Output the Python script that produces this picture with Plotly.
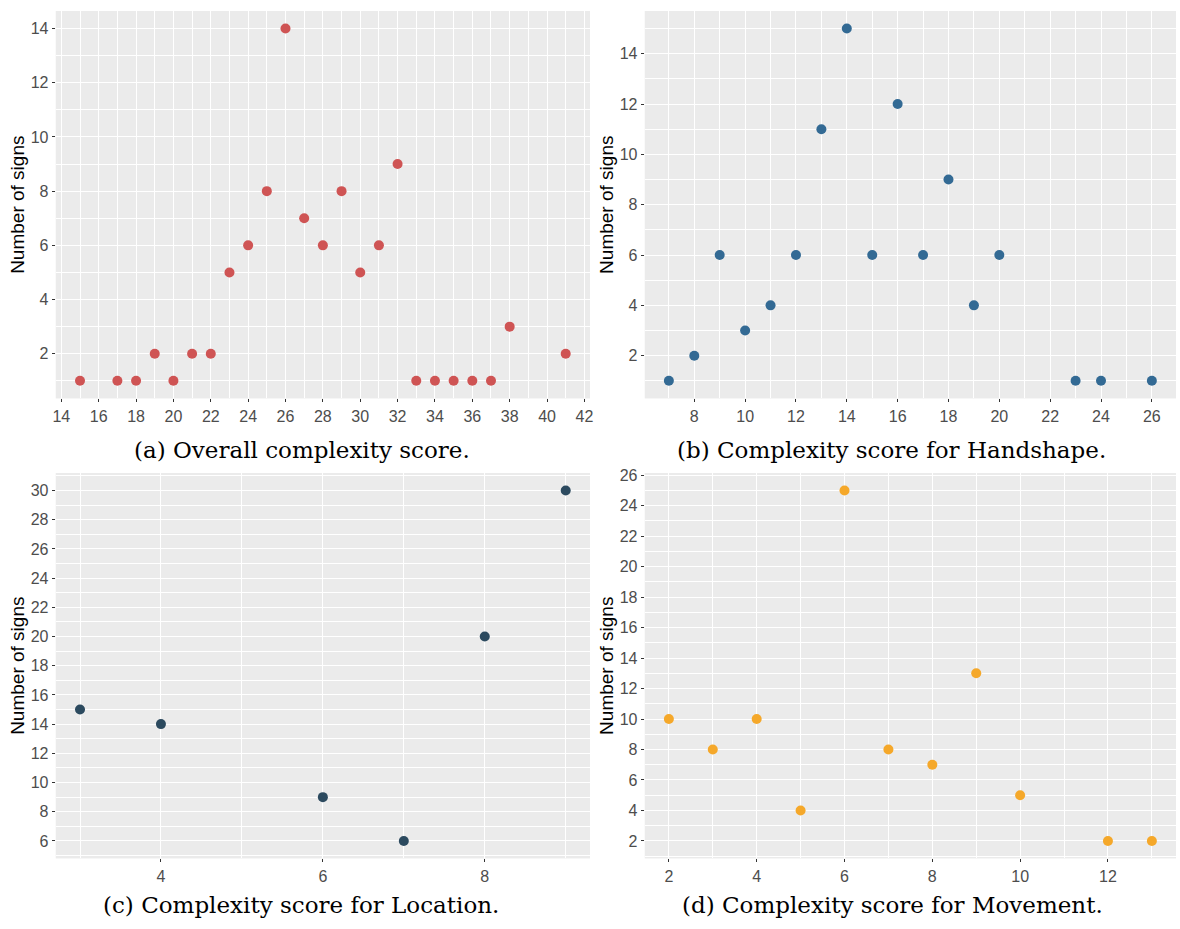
import plotly.graph_objects as go

# Panel (a) Overall complexity score
a_x = [15, 17, 18, 19, 20, 21, 22, 23, 24, 25, 26, 27, 28, 29, 30, 31, 32, 33, 34, 35, 36, 37, 38, 41]
a_y = [1, 1, 1, 2, 1, 2, 2, 5, 6, 8, 14, 7, 6, 8, 5, 6, 9, 1, 1, 1, 1, 1, 3, 2]
# Panel (b) Handshape
b_x = [7, 8, 9, 10, 11, 12, 13, 14, 15, 16, 17, 18, 19, 20, 23, 24, 26]
b_y = [1, 2, 6, 3, 4, 6, 11, 15, 6, 12, 6, 9, 4, 6, 1, 1, 1]
# Panel (c) Location
c_x = [3, 4, 6, 7, 8, 9]
c_y = [15, 14, 9, 6, 20, 30]
# Panel (d) Movement
d_x = [2, 3, 4, 5, 6, 7, 8, 9, 10, 12, 13]
d_y = [10, 8, 10, 4, 25, 8, 7, 13, 5, 2, 2]

captions = ["(a) Overall complexity score.", "(b) Complexity score for Handshape.",
            "(c) Complexity score for Location.", "(d) Complexity score for Movement."]
colors = ["#CF5454", "#336A94", "#2C4A5F", "#F5A82A"]
y_title = "Number of signs"

W, H = 1180, 929
panels = [
    dict(x=a_x, y=a_y, px=(53, 590), py=(5, 395), xd=2, yd=2, cap=(301, 447)),
    dict(x=b_x, y=b_y, px=(645, 1179), py=(5, 395), xd=2, yd=2, cap=(893, 447)),
    dict(x=c_x, y=c_y, px=(53, 590), py=(470, 858), xd=2, yd=2, cap=(300, 905)),
    dict(x=d_x, y=d_y, px=(645, 1179), py=(470, 858), xd=2, yd=2, cap=(894, 905)),
]

fig = go.Figure()
layout = {}
annotations = []
for i, p in enumerate(panels):
    n = "" if i == 0 else str(i + 1)
    xmin, xmax = min(p["x"]), max(p["x"])
    ymin, ymax = min(p["y"]), max(p["y"])
    ex = 0.05 * (xmax - xmin)
    ey = 0.05 * (ymax - ymin)
    fig.add_trace(go.Scatter(x=p["x"], y=p["y"], mode="markers",
                             marker=dict(size=10, color=colors[i]),
                             xaxis="x" + n, yaxis="y" + n, showlegend=False))
    common = dict(showgrid=True, gridcolor="white", gridwidth=1.2, zeroline=False,
                  ticks="outside", ticklen=3, tickcolor="#333333", tickwidth=1,
                  tickfont=dict(family="Liberation Sans, Arial", size=16, color="#4D4D4D"),
                  showline=False,
                  minor=dict(showgrid=True, gridcolor="white", gridwidth=0.6, ticks=""))
    layout["xaxis" + n] = dict(common, domain=[p["px"][0] / W, p["px"][1] / W],
                               range=[xmin - ex, xmax + ex], dtick=p["xd"], tick0=0,
                               minor=dict(common["minor"], dtick=p["xd"] / 2, tick0=0),
                               anchor="y" + n)
    layout["yaxis" + n] = dict(common, domain=[1 - p["py"][1] / H, 1 - p["py"][0] / H],
                               range=[ymin - ey, ymax + ey], dtick=p["yd"], tick0=0,
                               minor=dict(common["minor"], dtick=p["yd"] / 2, tick0=0),
                               anchor="x" + n,
                               title=dict(text=y_title, standoff=1,
                                          font=dict(family="Liberation Sans, Arial", size=19, color="black")))
    annotations.append(dict(text=captions[i], x=p["cap"][0] / W, y=1 - p["cap"][1] / H,
                            xref="paper", yref="paper", showarrow=False,
                            xanchor="center", yanchor="middle",
                            font=dict(family="DejaVu Serif", size=23, color="black")))

fig.update_layout(width=W, height=H, margin=dict(l=0, r=0, t=0, b=0),
                  paper_bgcolor="white", plot_bgcolor="#EBEBEB",
                  annotations=annotations, **layout)
fig.write_html("out.html", config={"displayModeBar": False},
               post_script="document.body.style.margin='0';document.body.style.overflow='hidden';")
